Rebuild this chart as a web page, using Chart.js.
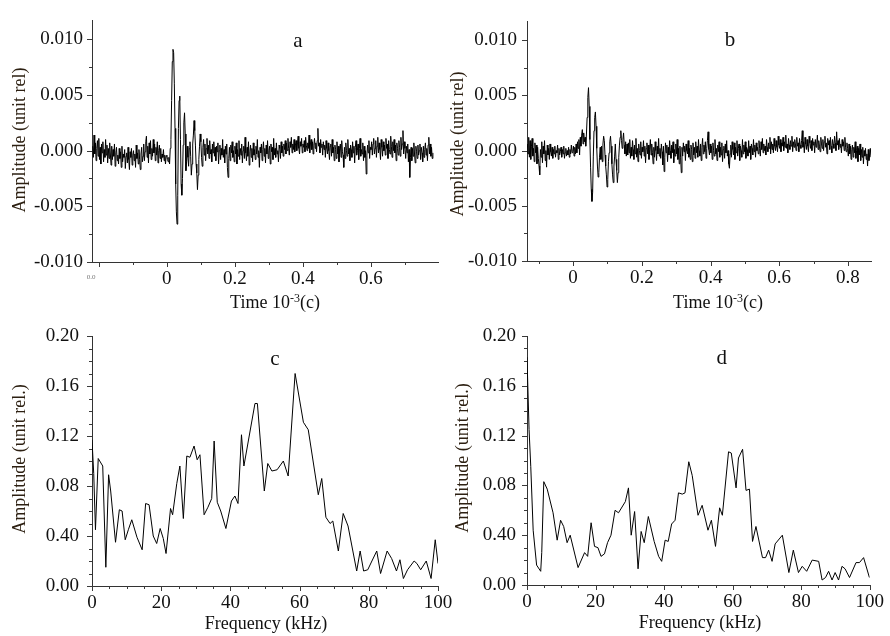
<!DOCTYPE html>
<html>
<head>
<meta charset="utf-8">
<script src="https://cdn.jsdelivr.net/npm/chart.js@4.4.1/dist/chart.umd.min.js"></script>
<style>
  body { margin: 0; background: #fff; }
  #wrap { position: relative; width: 890px; height: 636px; background: #fff; }
  canvas { position: absolute; left: 0; top: 0; }
</style>
</head>
<body>
<div id="wrap">
  <canvas id="chartA" width="890" height="636"></canvas>
  <canvas id="chartB" width="890" height="636"></canvas>
  <canvas id="chartC" width="890" height="636"></canvas>
  <canvas id="chartD" width="890" height="636"></canvas>
</div>
<script>
// ---- data ----
// a, b: time signals, amplitude in units of 1e-4, one sample every dt (10^-3 s)
const startA = -0.218, dtA = 0.002;
const ampA = [
  // before the burst
  4, -6, 14, -3, 7, -9, 2, 9, -5, 11,
  -8, 3, -12, 6, -2, 8, -10, 1, -6, 10,
  -4, 5, -11, 2, -7, 7, -3, -13, 4, -8,
  1, -5, 6, -14, -2, 3, -9, -4, -12, 2,
  -7, -1, -15, 4, -10, -3, -6, 1, -16, -5,
  -2, -11, 3, -8, -17, -1, -6, 2, -13, -4,
  0, -9, -3, -15, 5, -7, -2, -12, 1, -8,
  -17, -3, 3, -10, -5, 6, -9, -1, 8, 13,
  -6, 4, -11, 7, -3, 9, -8, 2, -5, 10,
  -2, 6, -9, 3, -4, 8, -11, 0, 5, -7,
  2, -10, -3, -6, 1, -9, -4, -12, -5,
  // burst
  -4, -8, -10, -6, -12, 2, 10, 45, 80, 91,
  88, 60, 20, -30, -55, -66, -40, 20, 45, 49,
  10, -30, -40, -25, 5, 25, 34, 15, -18, -10,
  4, -6, -14, 2, 8, -5, -22, -12, 6, 14,
  27, 18, 5, -12, -20, -35, -22, -8, 4, 15,
  8, -6, -14, 3, 10, -4, 6, -9, 2, 11,
  -3,
  // after the burst
  5, -7, 9, -3, 1, -10, 6, -2, 8, -5,
  3, -9, 4, -1, 7, -12, 0, 5, -8, 2,
  -4, 10, -6, 1, -11, 4, -3, 6, -15, -24,
  -7, 3, -9, 5, -2, 8, -6, 0, -10, 4,
  -3, 7, -12, 1, -5, 9, -8, 2, -4, 6,
  -11, 0, 4, -7, 12, -2, -9, 3, -5, 8,
  -13, -1, 5, -6, 2, -10, 7, -4, 1, -8,
  4, -3, 10, -6, 0, -15, 3, -2, 6, -9,
  1, 8, -5, 2, -11, 5, -3, 9, -7, 0,
  4, -12, 6, -1, 3, -8, 11, -4, 2, -6,
  7, -3, 0, -10, 5, 2, -7, 8, -2, 4,
  -5, 6, 1, 9, -3, 7, 0, 11, 2, -4,
  8, 3, 12, -2, 6, 1, 10, -1, 5, 9,
  0, 7, 13, 2, -3, 8, 4, 11, -2, 6,
  3, 9, -1, 12, 5, 0, 7, 2, 14, -2,
  6, 10, 1, 8, -3, 5, 11, 2, 7, -1,
  9, 20, 4, 7, -2, 10, 3, 6, -4, 8,
  1, 5, -6, 9, 2, -3, 7, 0, -8, 4,
  6, -5, 10, -2, 3, -9, 5, 1, -7, 8,
  -3, 4, -10, 2, 6, -6, 9, -1, -4, -15,
  3, -7, 7, 0, -5, 10, -3, 2, -9, 5,
  1, -6, 8, -2, 4, -11, 3, 9, -4, 0,
  6, -8, 2, 11, -5, 1, -3, 7, -9, 4,
  -6, 0, -21, -4, 5, -2, 9, -7, 3, 1,
  8, -4, 6, 11, -3, 2, 9, -6, 4, 12,
  -2, 7, 1, -8, 10, 3, -5, 8, 0, 5,
  -4, 11, 2, 6, -7, 9, 1, -3, 13, 4,
  -6, 8, 0, 10, -2, 5, -9, 7, 2, -4,
  9, 3, -5, 12, 1, 6, 18, -3, 8, 2,
  -7, 4, -2, 6, -10, 1, -24, -6, 3, -9,
  2, -5, 7, -3, -11, 4, -1, -7, 5, -4,
  0, 6, -8, 3, -2, -10, 4, -6, 1, 7,
  -4, 2, -9, 5, 12, -3, 6, -5, 3, -7,
  -2
];

const startB = -0.133, dtB = 0.002;
const ampB = [
  // before the burst
  6, -3, 12, -6, 9, -8, 4, 11, -5, 2,
  -10, 7, -2, 5, -12, 3, -7, -14, -22, 1,
  -6, 8, -11, 4, -3, 9, -9, 0, -15, 5,
  -4, 2, -8, 6, -1, -5, 3, -7, 1, -3,
  4, -6, 0, -2, 5, -8, 2, -4, -1, 3,
  -6, 1, -3, 4, -7, -2, 2, -5, 0, -4,
  3, -6, 1, -3, 5, -2,
  // burst
  -1, 4, -5, 3, -3, 6, -2, 8, 2, 10,
  -4, 12, 4, 14, 19, 6, 16, 8, 12, 4,
  15, 30, 48, 57, 40, 10, -15, -35, -46, -38,
  -5, 18, 30, 35, 22, 2, -14, -24, -20, -6,
  3, -8, 4, -10, 6, 13, 9, -4, -14, -22,
  -33, -26, -10, -2, 8, 13, 4, -12, -22, -29,
  -14, -5, 6, -8, -18, -29, -20, -6, 5, 12,
  18, 9, 2, 10, 16, 5, -3, 8, -5, 6,
  // after the burst
  -4, 7, -2, 10, -7, 3, -5, 9, 1, -8,
  5, -3, 11, -6, 2, -10, 6, 0, -4, 8,
  -7, 3, -1, 9, -5, 4, -11, 2, 7, -3,
  5, -8, 1, 10, -4, 6, -2, -12, 3, -6,
  8, 0, -9, 4, -3, 11, -5, 2, -7, 6,
  -1, -13, 4, -19, -6, 7, -2, 5, -10, 3,
  -4, 9, 0, -7, 5, -2, 8, -11, 1, -5,
  6, -3, 10, -8, 2, -12, 4, -6, -20, 3,
  -5, 7, -1, 4, -9, 6, 0, -3, 9, -6,
  2, -8, 5, 1, -10, 7, -4, 3, -7, 8,
  -2, 4, -6, 10, 0, -5, 6, -9, 3, 11,
  -3, 5, -1, 8, -7, 2, 9, 17, 1, -4,
  6, -2, 4, -8, 7, 0, -5, 10, -3, 2,
  -9, 5, -1, 8, -6, 3, -4, 7, -10, 1,
  4, -7, 6, -2, 9, -5, 0, -12, -16, -3,
  5, -6, 8, 1, -4, 7, -8, 3, -2, 9,
  -5, 2, 6, -9, 4, 0, -6, 10, -3, 5,
  -1, 8, -7, 3, 1, -5, 9, -2, 4, -8,
  6, 2, -4, 10, -1, 5, -6, 7, 0, 3,
  -3, 9, 2, -5, 8, 1, 11, -2, 6, 0,
  4, -4, 10, 3, -1, 7, 2, 12, -3, 8,
  1, 6, -2, 11, 4, 0, 9, 3, -1, 13,
  5, 2, 10, -1, 7, 4, 12, 0, 8, 3,
  14, 2, 6, -2, 11, 5, 1, 9, 4, 13,
  -1, 8, 3, 10, 6, 0, 12, 4, 7, -1,
  11, 5, 2, 9, 18, 3, 8, -2, 12, 6,
  1, 10, 4, -1, 13, 7, 2, 9, 0, 11,
  5, 8, -2, 10, 3, 6, 14, 1, 9, 4,
  -1, 12, 6, 2, 10, 0, 8, 13, 3, 7,
  -3, 11, 5, 9, 1, 12, 4, -2, 10, 6,
  2, 13, 7, 0, 17, 5, 9, 1, 11, 3,
  6, -2, 10, 4, 8, 0, 12, 3, -1, 7,
  2, -5, 6, -3, 4, -8, 1, 5, -6, 3,
  -2, 8, -7, 0, 4, -10, 2, -4, 6, -9,
  1, -6, 3, -12, 0, -5, 2, -8, -3, -14,
  1, -9, -4, 2, -6
];

// c, d: spectra, frequency in kHz
const freqC = [
  0, 0.5, 1.0, 1.8, 3.1, 4.0, 4.8, 5.4, 6.8, 7.9,
  8.7, 9.6, 10.5, 11.5, 13.0, 14.5, 15.5, 16.5, 17.7, 18.7,
  19.7, 20.6, 21.4, 22.7, 23.3, 24.5, 25.4, 26.4, 27.4, 28.3,
  29.5, 30.4, 31.2, 32.4, 33.5, 34.6, 35.3, 36.2, 37.2, 38.7,
  40.3, 41.3, 42.2, 43.2, 43.9, 47.1, 47.8, 49.8, 50.8, 52.0,
  53.5, 55.3, 56.7, 58.7, 61.1, 62.5, 65.4, 66.4, 67.6, 68.8,
  69.6, 71.2, 72.6, 74.0, 76.5, 77.5, 78.5, 79.7, 80.9, 82.3,
  83.4, 85.3, 86.6, 88.0, 89.0, 90.0, 91.2, 93.1, 93.9, 95.0,
  96.6, 98.0, 99.2, 100
];
const ampC = [
  0.117, 0.090, 0.045, 0.102, 0.096, 0.015, 0.089, 0.076, 0.035, 0.061,
  0.060, 0.037, 0.045, 0.053, 0.039, 0.029, 0.066, 0.065, 0.040, 0.034,
  0.046, 0.038, 0.026, 0.062, 0.057, 0.082, 0.096, 0.054, 0.104, 0.103,
  0.112, 0.101, 0.105, 0.057, 0.063, 0.070, 0.116, 0.067, 0.060, 0.046,
  0.068, 0.072, 0.066, 0.121, 0.096, 0.146, 0.146, 0.076, 0.098, 0.092,
  0.093, 0.100, 0.088, 0.170, 0.131, 0.125, 0.073, 0.086, 0.055, 0.050,
  0.052, 0.028, 0.058, 0.048, 0.012, 0.028, 0.012, 0.013, 0.020, 0.028,
  0.010, 0.028, 0.022, 0.012, 0.021, 0.006, 0.013, 0.020, 0.018, 0.013,
  0.020, 0.006, 0.037, 0.018
];

const freqD = [
  0, 0.6, 1.1, 1.8, 2.8, 4.0, 4.3, 4.9, 5.9, 7.6,
  8.8, 9.8, 10.7, 11.7, 12.6, 14.9, 16.8, 17.7, 18.7, 19.7,
  20.7, 21.6, 22.6, 23.5, 24.5, 25.7, 26.7, 28.7, 29.6, 30.4,
  31.4, 32.4, 33.3, 34.2, 35.4, 37.1, 38.4, 39.3, 40.3, 41.2,
  42.2, 43.2, 44.2, 45.3, 46.1, 47.2, 48.2, 49.9, 51.1, 52.8,
  53.8, 55.0, 56.2, 57.0, 58.8, 59.6, 61.0, 61.7, 62.9, 63.9,
  64.9, 65.8, 66.8, 68.7, 69.6, 70.5, 71.5, 72.4, 74.5, 76.4,
  77.7, 79.2, 80.3, 81.6, 83.2, 85.1, 86.1, 87.1, 88.0, 89.0,
  89.9, 90.9, 91.9, 92.8, 94.1, 96.0, 97.0, 98.2, 99.9
];
const ampD = [
  0.183, 0.125, 0.095, 0.044, 0.016, 0.011, 0.026, 0.083, 0.077, 0.058,
  0.036, 0.052, 0.047, 0.034, 0.040, 0.014, 0.026, 0.023, 0.050, 0.031,
  0.030, 0.023, 0.025, 0.034, 0.040, 0.060, 0.058, 0.067, 0.078, 0.040,
  0.059, 0.013, 0.043, 0.034, 0.055, 0.035, 0.023, 0.019, 0.036, 0.035,
  0.049, 0.052, 0.074, 0.073, 0.074, 0.099, 0.088, 0.056, 0.064, 0.044,
  0.052, 0.031, 0.062, 0.056, 0.107, 0.106, 0.078, 0.102, 0.109, 0.076,
  0.077, 0.035, 0.047, 0.022, 0.022, 0.028, 0.019, 0.033, 0.040, 0.010,
  0.028, 0.010, 0.015, 0.011, 0.020, 0.019, 0.004, 0.006, 0.011, 0.004,
  0.010, 0.004, 0.015, 0.013, 0.006, 0.018, 0.018, 0.022, 0.006
];

// tick labels (the spectrum axis really reads "0.40" at 0.04)
const specYLabels = ['0.00', '0.40', '0.08', '0.12', '0.16', '0.20'];
const timeXLabels = ['0', '0.2', '0.4', '0.6', '0.8'];
const freqXLabels = ['0', '20', '40', '60', '80', '100'];

// ---- drawing ----
const serif = "'Liberation Serif', 'Times New Roman', serif";
const titleColor = '#2d2012';

function drawParts(ctx, parts, cx, baseY) {
  let total = 0;
  parts.forEach(p => {
    ctx.font = (p.sup ? '12px ' : '18px ') + serif;
    p.w = ctx.measureText(p.t).width;
    total += p.w;
  });
  let x = cx - total / 2;
  ctx.textAlign = 'left';
  ctx.textBaseline = 'alphabetic';
  parts.forEach(p => {
    ctx.font = (p.sup ? '12px ' : '18px ') + serif;
    ctx.fillText(p.t, x, p.sup ? baseY - 6 : baseY);
    x += p.w;
  });
}

const deco = {
  id: 'deco',
  afterDraw(chart, args, o) {
    const ctx = chart.ctx, xs = chart.scales.x, ys = chart.scales.y, area = chart.chartArea;
    ctx.save();
    // tick marks, major and minor, pointing out of the plot
    ctx.strokeStyle = '#3a3a3a';
    ctx.lineWidth = 1;
    ctx.beginPath();
    const rx = Math.round(o.xMajor / o.xMinor);
    for (let k = Math.ceil(xs.min / o.xMinor - 1e-6); k <= Math.floor(xs.max / o.xMinor + 1e-6); k++) {
      const px = Math.round(xs.getPixelForValue(k * o.xMinor)) + 0.5;
      const len = (k % rx === 0) ? 5 : 3;
      ctx.moveTo(px, area.bottom);
      ctx.lineTo(px, area.bottom + len);
    }
    const ry = Math.round(o.yMajor / o.yMinor);
    for (let k = Math.ceil(ys.min / o.yMinor - 1e-6); k <= Math.floor(ys.max / o.yMinor + 1e-6); k++) {
      const py = Math.round(ys.getPixelForValue(k * o.yMinor)) + 0.5;
      const len = (k % ry === 0) ? 5 : 3;
      ctx.moveTo(area.left, py);
      ctx.lineTo(area.left - len, py);
    }
    ctx.stroke();

    // panel letter
    ctx.fillStyle = '#111';
    ctx.font = '21px ' + serif;
    ctx.textAlign = 'center';
    ctx.textBaseline = 'middle';
    ctx.fillText(o.letter, xs.getPixelForValue(o.letterAt[0]), ys.getPixelForValue(o.letterAt[1]));

    // y title
    ctx.fillStyle = titleColor;
    ctx.font = '18px ' + serif;
    ctx.save();
    ctx.translate(o.yTitlePos[0], o.yTitlePos[1]);
    ctx.rotate(-Math.PI / 2);
    ctx.fillText(o.yTitle, 0, 0);
    ctx.restore();

    // x title
    ctx.fillStyle = '#111';
    drawParts(ctx, o.xTitle, o.xTitlePos[0], o.xTitlePos[1]);

    if (o.tiny) {
      ctx.fillStyle = '#777';
      ctx.font = '7px ' + serif;
      ctx.textAlign = 'center';
      ctx.textBaseline = 'middle';
      ctx.fillText(o.tiny.t, o.tiny.x, o.tiny.y);
    }
    ctx.restore();
  }
};

function makeChart(id, c) {
  const xAxisH = 40, yAxisW = 92;
  return new Chart(document.getElementById(id), {
    type: 'line',
    data: {
      datasets: [{
        data: c.points,
        borderColor: '#000',
        borderWidth: 1,
        pointRadius: 0,
        tension: 0,
        fill: false
      }]
    },
    options: {
      responsive: false,
      animation: false,
      devicePixelRatio: 1,
      events: [],
      layout: {
        padding: {
          left: c.area.left - yAxisW,
          top: c.area.top,
          right: 890 - c.area.right,
          bottom: 636 - c.area.bottom - xAxisH
        }
      },
      plugins: {
        legend: { display: false },
        tooltip: { enabled: false },
        deco: c.deco
      },
      scales: {
        x: {
          type: 'linear',
          min: c.xMin,
          max: c.xMax,
          afterFit: s => { s.height = xAxisH; },
          grid: { display: false, drawTicks: false },
          border: { display: true, color: '#333', width: 1 },
          ticks: {
            stepSize: c.xStep,
            includeBounds: false,
            autoSkip: false,
            maxRotation: 0,
            padding: 6,
            color: '#111',
            font: { family: serif, size: 19 },
            callback: c.xLabel
          }
        },
        y: {
          type: 'linear',
          min: c.yMin,
          max: c.yMax,
          afterFit: s => { s.width = yAxisW; },
          grid: { display: false, drawTicks: false },
          border: { display: true, color: '#333', width: 1 },
          ticks: {
            stepSize: c.yStep,
            includeBounds: false,
            autoSkip: false,
            padding: c.yPad,
            color: '#111',
            font: { family: serif, size: 19 },
            callback: c.yLabel
          }
        }
      }
    },
    plugins: [deco]
  });
}

const timeTitle = [{ t: 'Time 10' }, { t: '-3', sup: true }, { t: '(c)' }];
const freqTitle = [{ t: 'Frequency (kHz)' }];

const timeY = v => (v / 10000).toFixed(3);
const timeX = v => {
  const i = Math.round(v / 0.2);
  return i >= 0 ? timeXLabels[i] : '';
};
const specY = v => specYLabels[Math.round(v / 0.04)];
const specX = v => freqXLabels[Math.round(v / 20)];

makeChart('chartA', {
  points: ampA.map((v, i) => ({ x: startA + i * dtA, y: v })),
  area: { left: 92, top: 12, right: 438, bottom: 262 },
  xMin: -0.22, xMax: 0.797, xStep: 0.2, xLabel: timeX,
  yMin: -100, yMax: 117, yStep: 50, yLabel: timeY, yPad: 9,
  deco: {
    xMinor: 0.1, xMajor: 0.2, yMinor: 25, yMajor: 50,
    letter: 'a', letterAt: [0.385, 98],
    yTitle: 'Amplitude (unit rel)', yTitlePos: [20, 140],
    xTitle: timeTitle, xTitlePos: [275, 308],
    tiny: { t: '0.0', x: 91, y: 277 }
  }
});

makeChart('chartB', {
  points: ampB.map((v, i) => ({ x: startB + i * dtB, y: v })),
  area: { left: 527, top: 12, right: 871, bottom: 261 },
  xMin: -0.134, xMax: 0.867, xStep: 0.2, xLabel: timeX,
  yMin: -100, yMax: 117, yStep: 50, yLabel: timeY, yPad: 10,
  deco: {
    xMinor: 0.1, xMajor: 0.2, yMinor: 25, yMajor: 50,
    letter: 'b', letterAt: [0.457, 100],
    yTitle: 'Amplitude (unit rel)', yTitlePos: [458, 144],
    xTitle: timeTitle, xTitlePos: [718, 308]
  }
});

makeChart('chartC', {
  points: freqC.map((f, i) => ({ x: f, y: ampC[i] })),
  area: { left: 92, top: 336, right: 438, bottom: 586 },
  xMin: 0, xMax: 100, xStep: 20, xLabel: specX,
  yMin: 0, yMax: 0.2, yStep: 0.04, yLabel: specY, yPad: 13,
  deco: {
    xMinor: 5, xMajor: 20, yMinor: 0.01, yMajor: 0.04,
    letter: 'c', letterAt: [52.9, 0.181],
    yTitle: 'Amplitude (unit rel.)', yTitlePos: [20, 459],
    xTitle: freqTitle, xTitlePos: [266, 629]
  }
});

makeChart('chartD', {
  points: freqD.map((f, i) => ({ x: f, y: ampD[i] })),
  area: { left: 527, top: 336, right: 872, bottom: 585 },
  xMin: 0, xMax: 100, xStep: 20, xLabel: specX,
  yMin: 0, yMax: 0.2, yStep: 0.04, yLabel: specY, yPad: 11,
  deco: {
    xMinor: 5, xMajor: 20, yMinor: 0.01, yMajor: 0.04,
    letter: 'd', letterAt: [56.8, 0.182],
    yTitle: 'Amplitude (unit rel.)', yTitlePos: [463, 458],
    xTitle: freqTitle, xTitlePos: [700, 628]
  }
});
</script>
</body>
</html>
